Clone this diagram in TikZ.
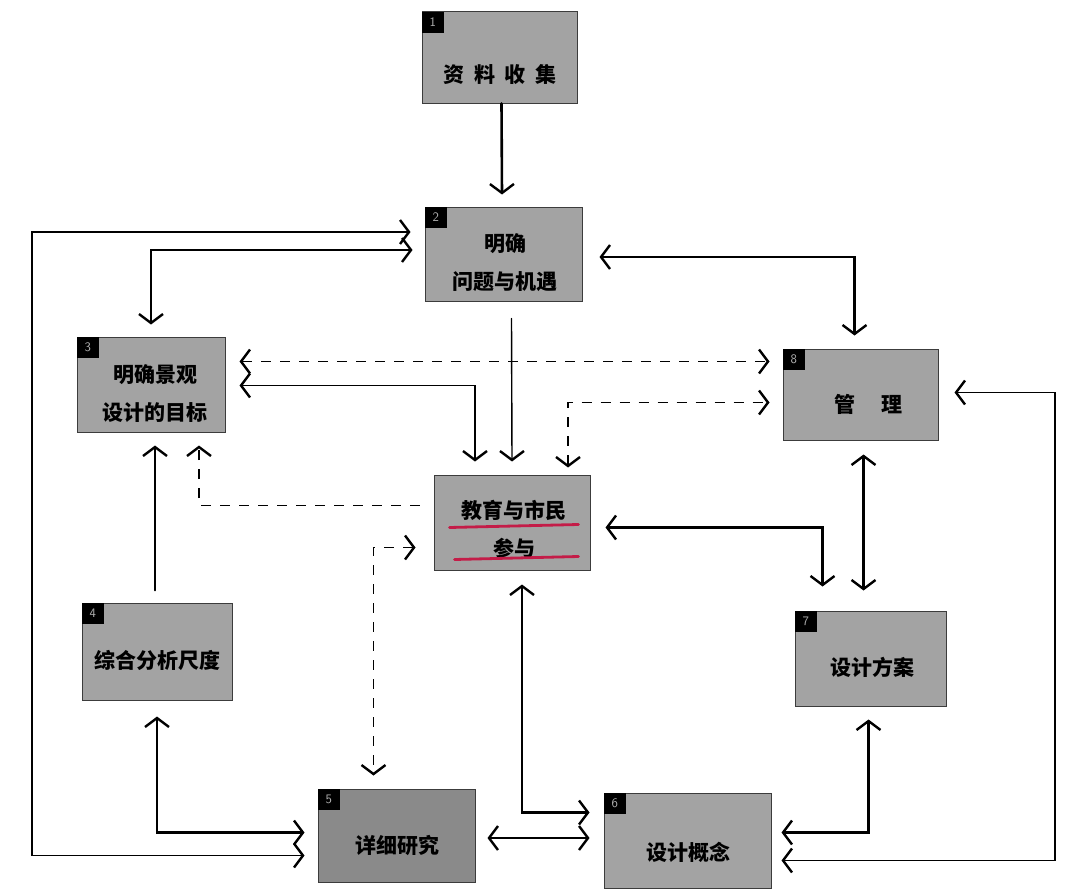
\documentclass[tikz,border=0pt]{standalone}
\usepackage{fontspec}
\newfontfamily\cjk{Noto Sans CJK SC}
\usetikzlibrary{arrows.meta,calc}
\definecolor{boxgray}{RGB}{163,163,163}
\definecolor{boxdark}{RGB}{138,138,138}
\definecolor{edgegray}{RGB}{60,60,60}
\definecolor{redline}{RGB}{196,28,72}
\begin{document}
\begin{tikzpicture}[x=1pt,y=-1pt,
  >={Straight Barb[length=9pt,width=24pt,line width=2.4pt]},
  box/.style={draw=edgegray,line width=1pt,fill=boxgray,inner sep=0pt},
  badge/.style={fill=black,text=gray!60,anchor=north west,minimum width=22pt,minimum height=21pt,inner sep=0pt,font=\sffamily\fontsize{13}{14}\selectfont},
  txt/.style={font=\cjk\bfseries\fontsize{21}{38}\selectfont,align=center,inner sep=0pt},
  thk/.style={line width=2.6pt,line cap=round},
  med/.style={line width=1.8pt,line cap=round},
  thn/.style={line width=1.4pt,line cap=round},
  dsh/.style={line width=1.8pt,dash pattern=on 10pt off 9pt}]
\useasboundingbox (0,0) rectangle (1066,891);
% boxes
\node[box,minimum width=155pt,minimum height=91pt] (b1) at (499.5,57.5) {};
\node[box,minimum width=157pt,minimum height=94pt] (b2) at (503.5,254) {};
\node[box,minimum width=148pt,minimum height=95pt] (b3) at (151,384.5) {};
\node[box,minimum width=155pt,minimum height=91pt] (b8) at (860.5,394.5) {};
\node[box,minimum width=156pt,minimum height=95pt] (c) at (512,522.5) {};
\node[box,minimum width=150pt,minimum height=97pt] (b4) at (157,651.5) {};
\node[box,minimum width=151pt,minimum height=95pt] (b7) at (870.5,658.5) {};
\node[box,fill=boxdark,minimum width=157pt,minimum height=93pt] (b5) at (396.5,835.5) {};
\node[box,minimum width=167pt,minimum height=95pt] (b6) at (687.5,840.5) {};
% badges
\node[badge] (n1) at (b1.north west) {1};
\node[badge] (n2) at (b2.north west) {2};
\node[badge] (n3) at (b3.north west) {3};
\node[badge] (n8) at (b8.north west) {8};
\node[badge] (n4) at (b4.north west) {4};
\node[badge] (n7) at (b7.north west) {7};
\node[badge] (n5) at (b5.north west) {5};
\node[badge] (n6) at (b6.north west) {6};
% texts
\node[txt] (t1) at (500,75) {资\hspace{10pt}料\hspace{10pt}收\hspace{10pt}集};
\node[txt] (t2) at (505,263) {明确\\问题与机遇};
\node[txt] (t3) at (155,394) {明确景观\\设计的目标};
\node[txt] (t8) at (868,404) {管\hspace{26pt}理};
\node[txt] (tc) at (514,529) {教育与市民\\参与};
\node[txt] (t4) at (157,660) {综合分析尺度};
\node[txt] (t7) at (872,667) {设计方案};
\node[txt] (t5) at (397,845) {详细研究};
\node[txt] (t6) at (688,852) {设计概念};
% red underlines
\draw[redline,line width=2.8pt,line cap=round] ($(c.west)+(16,5)$) -- ($(c.east)+(-12,2)$);
\draw[redline,line width=2.8pt,line cap=round] ($(c.west)+(21,37)$) -- ($(c.east)+(-12,34)$);
% connectors
\draw[thk,->] (b1.south) ++(2,0) -- ($(b2.north)+(-1.5,-12)$);
\coordinate (lc) at (32,500);
\coordinate (rc) at (1055,600);
\draw[thn,<->] ([xshift=-14pt,yshift=22pt]b2.west) -| (lc) |- ([xshift=-13pt,yshift=-20pt]b5.west);
\draw[thk,<->] ([xshift=-12pt,yshift=4pt]b2.west) -| ([yshift=12pt]b3.north);
\draw[thk,<->] ([yshift=-16pt]b4.south) |- ([xshift=-13pt,yshift=3pt]b5.west);
\draw[med,->] ([xshift=-2pt,yshift=12pt]b4.north) -- ([xshift=4pt,yshift=-13pt]b3.south);
\draw[dsh,<->] ([xshift=14pt,yshift=23pt]b3.east) -- ([xshift=-13pt,yshift=33pt]b8.west);
\draw[med,<->] ([xshift=14pt,yshift=-1pt]b3.east) -| ([xshift=-37pt,yshift=13pt]c.north);
\draw[thn,->] ([xshift=8pt,yshift=-17pt]b2.south) -- ([yshift=13pt]c.north);
\draw[dsh,<->] ([xshift=56pt,yshift=7pt]c.north) |- ([xshift=-13pt,yshift=-8pt]b8.west);
\draw[thk,<->] ([xshift=17pt,yshift=-3pt]b2.east) -| ([xshift=-6pt,yshift=13pt]b8.north);
\draw[thk,<->] ([xshift=3pt,yshift=-14pt]b8.south) -- ([xshift=-7pt,yshift=20pt]b7.north);
\draw[thk,<->] ([xshift=15pt,yshift=-5pt]c.east) -| ([xshift=-48pt,yshift=24pt]b7.north);
\draw[dsh,<->] ([xshift=-18pt,yshift=-25pt]c.west) -| ([xshift=-23pt,yshift=13pt]b5.north);
\draw[dsh,->] ([xshift=-14pt,yshift=17pt]c.west) -| ([xshift=48pt,yshift=-13pt]b3.south);
\draw[thk,<->] ([xshift=10pt,yshift=-14pt]c.south) |- ([xshift=-14pt,yshift=28pt]b6.west);
\draw[thk,<->] ([xshift=12pt,yshift=-2.5pt]b5.east) -- ([xshift=-14pt,yshift=2.5pt]b6.west);
\draw[thk,<->] ([xshift=10pt,yshift=8pt]b6.east) -| ([xshift=-2pt,yshift=-13pt]b7.south);
\draw[thn,<->] ([xshift=16pt,yshift=2pt]b8.east) -| (rc) |- ([xshift=10pt,yshift=-20pt]b6.east);
\end{tikzpicture}
\end{document}
